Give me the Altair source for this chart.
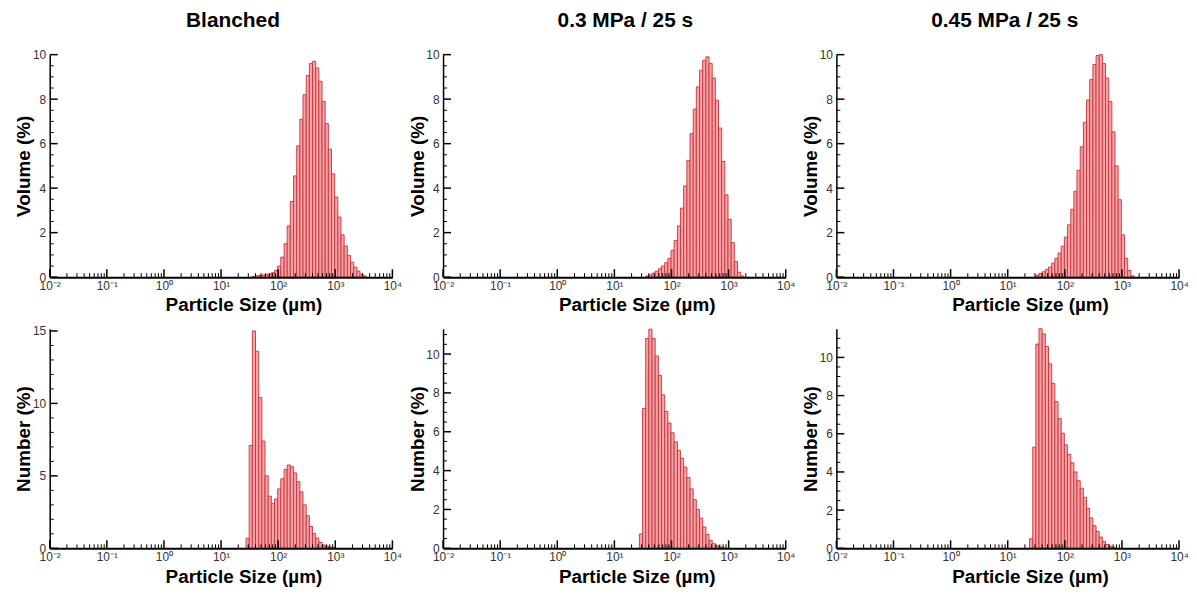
import altair as alt
import pandas as pd

FONT = "Liberation Sans"
FILL = "#f6a5a7"
STROKE = "#c8303b"

# Size-class edges (µm) shared by all distributions
EDGES = [21.2, 24.1, 27.4, 31.1, 35.3, 40.1, 45.6, 51.8, 58.9, 66.9, 76.0, 86.4,
         98.1, 111, 127, 144, 163, 186, 211, 240, 272, 310, 352, 400, 454, 516,
         586, 666, 756, 859, 976, 1110, 1260, 1430, 1630, 1850, 2100, 2390,
         2710, 3080, 3500]

TITLES = ["Blanched", "0.3 MPa / 25 s", "0.45 MPa / 25 s"]

# Volume (%) distributions: first size class and bar heights
VOL_BLANCHED_START = 35.3
VOL_BLANCHED = [0.04, 0.06, 0.08, 0.10, 0.11, 0.14, 0.20, 0.30, 0.5, 0.9, 1.5,
                2.3, 3.4, 4.55, 5.9, 7.1, 8.2, 9.06, 9.6, 9.7, 9.4, 8.8, 7.9,
                6.9, 5.75, 4.64, 3.6, 2.7, 1.9, 1.4, 0.97, 0.67, 0.45, 0.27,
                0.12, 0.05]
VOL_03_START = 35.3
VOL_03 = [0.05, 0.1, 0.18, 0.27, 0.38, 0.5, 0.65, 0.85, 1.2, 1.65, 2.3, 3.1,
          4.1, 5.25, 6.45, 7.55, 8.55, 9.3, 9.75, 9.9, 9.6, 8.95, 7.95, 6.7,
          5.2, 3.7, 2.6, 1.55, 0.7, 0.22, 0.05]
VOL_045_START = 31.1
VOL_045 = [0.09, 0.17, 0.24, 0.34, 0.45, 0.63, 0.84, 1.08, 1.39, 1.8, 2.35,
           3.05, 3.86, 4.8, 5.86, 6.96, 7.96, 8.88, 9.56, 9.96, 10.0, 9.6,
           8.95, 7.9, 6.53, 5.0, 3.48, 1.9, 0.85, 0.3, 0.06]

# Number (%) distributions
NUM_BLANCHED_START = 27.4
NUM_BLANCHED = [0.7, 7.1, 15.0, 13.6, 10.4, 7.4, 5.0, 3.6, 3.1, 3.4, 4.1, 4.8,
                5.45, 5.75, 5.63, 5.2, 4.6, 3.9, 3.0, 2.25, 1.5, 1.03, 0.7,
                0.4, 0.23, 0.15, 0.09, 0.04]
NUM_03_START = 27.4
NUM_03 = [0.74, 7.2, 10.8, 11.28, 10.8, 9.9, 8.9, 7.9, 7.05, 6.45, 5.95, 5.48,
          5.03, 4.63, 4.18, 3.64, 3.06, 2.5, 2.0, 1.55, 1.1, 0.72, 0.41, 0.24,
          0.14, 0.08, 0.04]
NUM_045_START = 24.1
NUM_045 = [0.5, 5.3, 10.7, 11.5, 11.23, 10.57, 9.66, 8.64, 7.68, 6.79, 6.03,
           5.42, 4.92, 4.48, 4.0, 3.54, 3.15, 2.67, 2.1, 1.59, 1.18, 0.88,
           0.59, 0.36, 0.2, 0.11, 0.06]

# Axis ticks
X_MAJOR = [0.01, 0.1, 1, 10, 100, 1000, 10000]
X_LABELS = ["10⁻²", "10⁻¹", "10⁰", "10¹", "10²", "10³", "10⁴"]
X_MINOR = [m * d for d in X_MAJOR[:-1] for m in range(2, 10)]
Y_MAJOR_VOL = [0, 2, 4, 6, 8, 10]
Y_MINOR_VOL = [0.5, 1, 1.5, 2.5, 3, 3.5, 4.5, 5, 5.5, 6.5, 7, 7.5, 8.5, 9, 9.5]
Y_MAJOR_NUM = [0, 2, 4, 6, 8, 10]
Y_MINOR_NUM = [0.5, 1, 1.5, 2.5, 3, 3.5, 4.5, 5, 5.5, 6.5, 7, 7.5, 8.5, 9, 9.5, 10.5, 11]
Y_MAJOR_NUM_B = [0, 5, 10, 15]
Y_MINOR_NUM_B = [1, 2, 3, 4, 6, 7, 8, 9, 11, 12, 13, 14]

LABEL_EXPR = " : ".join(
    f"datum.value < {v * 3} ? '{l}'" for v, l in zip(X_MAJOR[:-1], X_LABELS[:-1])
) + f" : '{X_LABELS[-1]}'"

W = 345


def panel(start, values, ymax, ymajor, yminor, ytitle, height, title=None, dx=0):
    i0 = EDGES.index(start)
    n = len(values)
    df = pd.DataFrame({"lo": EDGES[i0:i0 + n], "hi": EDGES[i0 + 1:i0 + 1 + n], "v": values})
    xscale = alt.Scale(type="log", domain=[0.01, 10000], nice=False)
    yscale = alt.Scale(domain=[0, ymax], nice=False, zero=True)
    xaxis = alt.Axis(values=X_MAJOR, labelExpr=LABEL_EXPR, ticks=False, grid=False,
                     domainColor="black", domainWidth=2, labelFont=FONT,
                     labelFontSize=12, labelColor="#333333", labelPadding=3,
                     labelFlush=False, labelOverlap=False,
                     title="Particle Size (µm)", titleFont=FONT, titleFontSize=19,
                     titleFontWeight="bold", titleColor="black", titleX=195,
                     titleY=19, titleAlign="center", titleBaseline="top", zindex=1)
    yaxis = alt.Axis(values=ymajor, ticks=False, grid=False, domainColor="black",
                     domainWidth=1.5, labelFont=FONT, labelFontSize=12,
                     labelColor="#333333", labelPadding=4, labelFlush=False,
                     labelOverlap=False, title=ytitle, titleFont=FONT,
                     titleFontSize=19, titleFontWeight="bold", titleColor="black",
                     titleX=-26, titleY=height / 2, titleAngle=-90,
                     titleAlign="center", titleBaseline="middle", zindex=1)
    bars = alt.Chart(df).mark_rect(fill=FILL, stroke=STROKE, strokeWidth=0.9).encode(
        x=alt.X("lo:Q", scale=xscale, axis=xaxis, title="Particle Size (µm)"),
        x2="hi:Q",
        y=alt.Y("v:Q", scale=yscale, axis=yaxis, title=ytitle),
        y2=alt.datum(0),
    )

    def xticks(vals, length, sw):
        return alt.Chart(pd.DataFrame({"lo": vals})).mark_rule(color="black", strokeWidth=sw).encode(
            x=alt.X("lo:Q", scale=xscale, title="Particle Size (µm)"),
            y=alt.value(height), y2=alt.value(height - length))

    def yticks(vals, length, sw):
        return alt.Chart(pd.DataFrame({"v": vals})).mark_rule(color="black", strokeWidth=sw).encode(
            y=alt.Y("v:Q", scale=yscale, title=ytitle),
            x=alt.value(0), x2=alt.value(length))

    layer = alt.layer(bars, xticks(X_MAJOR, 8, 1.5), xticks(X_MINOR, 4, 1),
                      yticks(ymajor, 8, 1.5), yticks(yminor, 4, 1))
    if title is not None:
        layer = layer.properties(title=alt.TitleParams(
            text=title, font=FONT, fontSize=21, fontWeight="bold", color="black",
            anchor="middle", frame="group", baseline="alphabetic", offset=1, dx=dx))
    return layer.properties(width=W, height=height)


panels = [
    panel(VOL_BLANCHED_START, VOL_BLANCHED, 10, Y_MAJOR_VOL, Y_MINOR_VOL, "Volume (%)", 224, TITLES[0], 12),
    panel(VOL_03_START, VOL_03, 10, Y_MAJOR_VOL, Y_MINOR_VOL, "Volume (%)", 224, TITLES[1], 11),
    panel(VOL_045_START, VOL_045, 10, Y_MAJOR_VOL, Y_MINOR_VOL, "Volume (%)", 224, TITLES[2], -3),
    panel(NUM_BLANCHED_START, NUM_BLANCHED, 15.15, Y_MAJOR_NUM_B, Y_MINOR_NUM_B, "Number (%)", 221),
    panel(NUM_03_START, NUM_03, 11.3, Y_MAJOR_NUM, Y_MINOR_NUM, "Number (%)", 221),
    panel(NUM_045_START, NUM_045, 11.5, Y_MAJOR_NUM, Y_MINOR_NUM, "Number (%)", 221),
]

chart = alt.concat(*panels, columns=3, spacing=alt.RowColnumber(row=52, column=51),
                   bounds="flush").properties(
    padding={"left": 7, "top": 0, "right": 0, "bottom": 0},
    background="white",
).configure_view(stroke=None)

chart.save("out.html", embed_options={"renderer": "svg", "actions": False})
